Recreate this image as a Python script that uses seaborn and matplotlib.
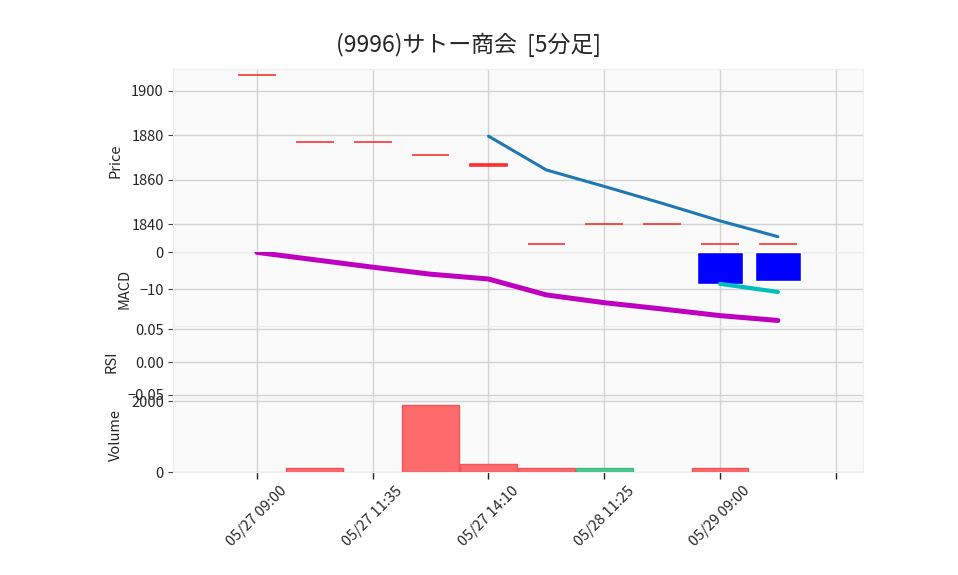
import numpy as np
import pandas as pd
import matplotlib
matplotlib.use("Agg")
import matplotlib.pyplot as plt
import seaborn as sns

# 5分足データ(チャートから読み取り)
tick_pos = [0, 2, 4, 6, 8, 10]
tick_labels = ["05/27 09:00", "05/27 11:35", "05/27 14:10", "05/28 11:25", "05/29 09:00", ""]
opens = [1907, 1877, 1877, 1871, 1866, 1831, 1840, 1840, 1831, 1831]
closes = [1907, 1877, 1877, 1871, 1867, 1831, 1840, 1840, 1831, 1831]
volume = [0, 100, 0, 1900, 220, 100, 100, 0, 100, 0]
ma5 = [np.nan, np.nan, np.nan, np.nan, 1879.6, 1864.4, 1857.0, 1849.4, 1841.5, 1834.4]
macd = [0, -2.0, -4.0, -5.9, -7.2, -11.5, -13.6, -15.3, -17.1, -18.4]
signal = [np.nan] * 8 + [-8.5, -10.7]
hist = [np.nan] * 8 + [-8.6, -7.7]

idx = np.arange(len(closes))
df = pd.DataFrame({"i": idx, "open": opens, "close": closes, "vol": volume,
                   "ma5": ma5, "macd": macd, "signal": signal, "hist": hist})

sns.set_style("whitegrid", {"axes.facecolor": "#fafafa", "grid.color": "#d3d3d3",
                            "axes.edgecolor": "#eeeeee"})
plt.rcParams["font.family"] = ["Noto Sans CJK JP", "DejaVu Sans"]
plt.rcParams["font.size"] = 10.5

fig = plt.figure(figsize=(9.58, 5.75), dpi=100)
L, W = 173 / 958, 690 / 958
def panel(top, bottom):
    return fig.add_axes([L, 1 - bottom / 575, W, (bottom - top) / 575])

ax_p = panel(69, 252)
ax_m = panel(252, 326)
ax_r = panel(326, 398)
ax_v = panel(398, 472)

up = "#fe3032"
# ローソク足
ax_p.bar(df["i"], df["close"] - df["open"], bottom=df["open"], width=0.65,
         color=up, edgecolor=up, linewidth=1.2, zorder=3)
sns.lineplot(data=df, x="i", y="ma5", ax=ax_p, color="#1f77b4", linewidth=2.2, zorder=4)
ax_p.set_ylim(1827.5, 1909.8)
ax_p.set_yticks([1840, 1860, 1880, 1900])
ax_p.set_ylabel("Price", labelpad=6)

# MACD
ax_m.bar(df["i"], df["hist"], width=0.8, color="#0000ff", zorder=3)
sns.lineplot(data=df, x="i", y="macd", ax=ax_m, color="#bf00bf", linewidth=3.6, zorder=4)
sns.lineplot(data=df, x="i", y="signal", ax=ax_m, color="#00bfbf", linewidth=3.0, zorder=4)
ax_m.set_ylim(-19.9, 0.1)
ax_m.set_yticks([-10, 0])
ax_m.set_ylabel("MACD", labelpad=6)

# RSI (値なし)
ax_r.set_ylim(-0.055, 0.055)
ax_r.set_yticks([-0.05, 0.0, 0.05])
ax_r.set_yticklabels(["\u22120.05", "0.00", "0.05"])
ax_r.set_ylabel("RSI", labelpad=6)

# 出来高(前の終値との比較で色分け)
prev = [closes[0]] + closes[:-1]
df["vcol"] = ["#4dc790" if c > p else "#fd6b6c" for c, p in zip(closes, prev)]
df["vedge"] = ["#3dbb80" if c > p else "#f25555" for c, p in zip(closes, prev)]
dv = df[df["vol"] > 0]
ax_v.bar(dv["i"], dv["vol"], width=0.98, color=dv["vcol"], edgecolor=dv["vedge"],
         linewidth=1, zorder=3)
ax_v.set_ylim(0, 2085)
ax_v.set_yticks([0, 2000])
ax_v.set_ylabel("Volume", labelpad=6)

for ax in (ax_p, ax_m, ax_r, ax_v):
    ax.set_xlim(-1.45, 10.47)
    ax.set_xticks(tick_pos)
    ax.set_xlabel("")
    ax.tick_params(axis="y", left=True, length=3.5, width=0.8, color="#444444", pad=3)
    ax.tick_params(axis="x", bottom=False, labelbottom=False)
    ax.grid(True, linewidth=1)
    for s in ax.spines.values():
        s.set_color("#eeeeee")
ax_v.tick_params(axis="x", bottom=True, labelbottom=True, length=5, width=1, color="#222222")
ax_v.set_xticklabels(tick_labels, rotation=45, ha="center")

fig.text(468 / 958, 1 - 45 / 575, "(9996)サトー商会  [5分足]", ha="center", va="center",
         fontsize=16.5)

fig.savefig("out.png", dpi=100)
